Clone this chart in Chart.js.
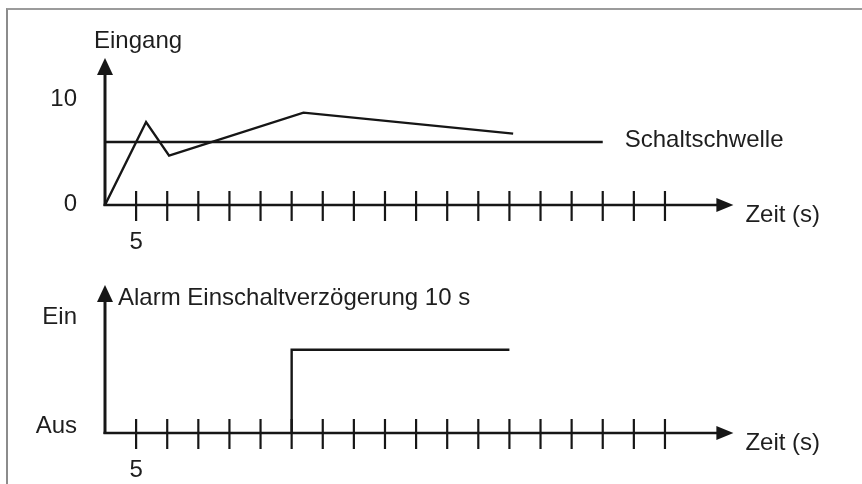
<!DOCTYPE html>
<html lang="de">
<head>
<meta charset="utf-8">
<title>Alarm Einschaltverzögerung</title>
<script src="https://cdn.jsdelivr.net/npm/chart.js@4.4.1/dist/chart.umd.min.js"></script>
<style>
  html, body { margin: 0; padding: 0; background: #fff; }
  body { width: 862px; height: 484px; position: relative; overflow: hidden; }
  #rahmen { position: absolute; left: 6px; top: 8px; width: 900px; height: 500px;
            border-top: 2px solid #9b9b9b; border-left: 2px solid #8c8c8c; }
  #oben { position: absolute; left: 0; top: 0; }
  #unten { position: absolute; left: 0; top: 250px; }
</style>
</head>
<body>
<div id="rahmen"></div>
<canvas id="oben" width="862" height="250"></canvas>
<canvas id="unten" width="862" height="234"></canvas>
<script>
// Zeitachse (s)
const zeitTicks = [5, 10, 15, 20, 25, 30, 35, 40, 45, 50, 55, 60, 65, 70, 75, 80, 85, 90];
const zeitLabelTicks = [5];
const zeitLabels = ['5'];
const zeitMax = 101;

// Eingang
const eingangZeit = [0, 6.6, 10.3, 31.9, 65.6];
const eingangWert = [0, 7.9, 4.7, 8.8, 6.8];
const schwelleZeit = [0, 80];
const schwelleWert = [6, 6];
const eingangTicks = [0, 10];
const eingangTickLabels = ['0', '10'];
const eingangMax = 14;

// Alarm
const alarmZeit = [30, 30, 65];
const alarmWert = [0, 0.77, 0.77];
const alarmTicks = [0, 1];
const alarmTickLabels = ['Aus', 'Ein'];
const alarmMax = 1.37;

const SCHRIFT = '24px "Liberation Sans", Arial, sans-serif';
const STRICH = '#161616';
const TEXT = '#1e1e1e';

const punkte = (xs, ys) => xs.map((t, i) => ({ x: t, y: ys[i] }));

// Achsen mit Pfeilen, Teilstrichen und Beschriftung
const achsenPlugin = {
  id: 'achsen',
  afterDatasetsDraw(chart, args, opts) {
    const { ctx, chartArea: a, scales: { x, y } } = chart;
    const y0 = y.getPixelForValue(0);
    ctx.save();
    ctx.strokeStyle = STRICH;
    ctx.fillStyle = STRICH;

    // y-Achse
    ctx.lineWidth = 3;
    ctx.beginPath();
    ctx.moveTo(a.left, y0 + 1);
    ctx.lineTo(a.left, a.top + 14);
    ctx.stroke();
    ctx.beginPath();
    ctx.moveTo(a.left, a.top);
    ctx.lineTo(a.left - 8, a.top + 17);
    ctx.lineTo(a.left + 8, a.top + 17);
    ctx.closePath();
    ctx.fill();

    // x-Achse
    ctx.lineWidth = 2.5;
    ctx.beginPath();
    ctx.moveTo(a.left - 1.5, y0);
    ctx.lineTo(a.right - 14, y0);
    ctx.stroke();
    ctx.beginPath();
    ctx.moveTo(a.right, y0);
    ctx.lineTo(a.right - 17, y0 - 7);
    ctx.lineTo(a.right - 17, y0 + 7);
    ctx.closePath();
    ctx.fill();

    // Teilstriche
    ctx.lineWidth = 2.2;
    zeitTicks.forEach(t => {
      const px = x.getPixelForValue(t);
      ctx.beginPath();
      ctx.moveTo(px, y0 - 14);
      ctx.lineTo(px, y0 + 16);
      ctx.stroke();
    });

    // Texte
    ctx.fillStyle = TEXT;
    ctx.font = SCHRIFT;
    ctx.textBaseline = 'alphabetic';

    ctx.textAlign = 'right';
    opts.yTicks.forEach((v, i) => {
      ctx.fillText(opts.yLabels[i], a.left - 28, y.getPixelForValue(v) + opts.yLabelDy);
    });

    ctx.textAlign = 'center';
    zeitLabelTicks.forEach((t, i) => {
      ctx.fillText(zeitLabels[i], x.getPixelForValue(t), y0 + 44);
    });

    ctx.textAlign = 'left';
    ctx.fillText(opts.titel, a.left + opts.titelDx, a.top + opts.titelDy);
    ctx.fillText('Zeit (s)', a.right + 12, y0 + 17);

    if (opts.schwelle) {
      const n = schwelleZeit.length - 1;
      ctx.fillText(opts.schwelle, x.getPixelForValue(schwelleZeit[n]) + 22,
                   y.getPixelForValue(schwelleWert[n]) + 4.5);
    }
    ctx.restore();
  }
};

function diagramm(id, datasets, yMax, padding, achsen) {
  return new Chart(document.getElementById(id), {
    type: 'line',
    data: { datasets },
    options: {
      responsive: false,
      animation: false,
      devicePixelRatio: 1,
      layout: { padding },
      plugins: {
        legend: { display: false },
        tooltip: { enabled: false },
        achsen
      },
      scales: {
        x: { type: 'linear', min: 0, max: zeitMax, display: false },
        y: { type: 'linear', min: 0, max: yMax, display: false }
      },
      elements: {
        point: { radius: 0 },
        line: { borderWidth: 2.4, borderColor: STRICH, tension: 0, fill: false }
      }
    },
    plugins: [achsenPlugin]
  });
}

diagramm('oben', [
  { label: 'Eingang', data: punkte(eingangZeit, eingangWert), clip: false },
  { label: 'Schaltschwelle', data: punkte(schwelleZeit, schwelleWert), clip: false }
], eingangMax, { left: 105, right: 128.6, top: 58, bottom: 45 }, {
  yTicks: eingangTicks, yLabels: eingangTickLabels, yLabelDy: 5.5,
  titel: 'Eingang', titelDx: -11, titelDy: -10,
  schwelle: 'Schaltschwelle'
});

diagramm('unten', [
  { label: 'Alarm', data: punkte(alarmZeit, alarmWert), clip: false }
], alarmMax, { left: 105, right: 128.6, top: 35, bottom: 51 }, {
  yTicks: alarmTicks, yLabels: alarmTickLabels, yLabelDy: -0.5,
  titel: 'Alarm Einschaltverzögerung 10 s', titelDx: 13, titelDy: 19.5
});
</script>
</body>
</html>
